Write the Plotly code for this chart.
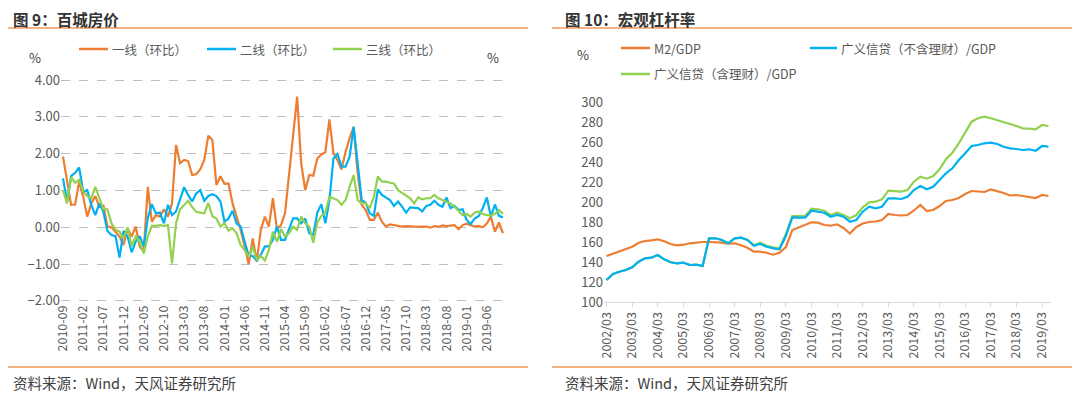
import pandas as pd
import plotly.graph_objects as go

# ---------------- Chart 9 data (monthly, %) ----------------
months = list(pd.period_range("2010-09", periods=110, freq="M").strftime("%Y-%m"))
tier1 = [1.92, 1.20, 0.61, 0.62, 1.24, 0.83, 0.29, 0.65, 0.85, 0.56,
         0.59, 0.02, 0.00, -0.12, -0.25, -0.48, -0.03, -0.25, 0.02, -0.52,
         -0.66, 1.10, 0.15, 0.33, 0.29, 0.49, 0.29, 0.65, 2.24, 1.74,
         1.83, 1.80, 1.42, 1.44, 1.57, 1.83, 2.49, 2.37, 1.15, 1.39,
         1.18, 1.19, 0.65, 0.29, -0.07, -0.52, -1.00, -0.30, -0.93, -0.07,
         0.29, 0.02, 0.79, -0.05, 0.06, 0.38, 1.47, 2.64, 3.55, 1.74,
         1.01, 1.42, 1.40, 1.87, 1.98, 2.04, 2.93, 2.01, 1.83, 1.57,
         2.05, 2.42, 2.73, 1.47, 0.61, 0.47, 0.20, 0.20, 0.40, 0.15,
         0.02, 0.08, 0.06, 0.04, 0.02, 0.03, 0.02, 0.02, 0.01, 0.02,
         0.02, -0.01, 0.03, 0.01, 0.05, 0.03, 0.05, 0.06, -0.05, 0.06,
         0.10, 0.06, 0.02, 0.04, 0.00, 0.10, 0.29, -0.12, 0.13, -0.16]
tier2 = [1.33, 0.70, 1.39, 1.48, 1.63, 0.97, 1.01, 0.61, 0.33, 0.65,
         0.42, -0.10, -0.21, -0.24, -0.82, -0.10, -0.25, -0.68, -0.39, -0.24,
         -0.52, 0.25, 0.63, 0.38, 0.40, 0.11, 0.61, 0.33, 0.43, 0.74,
         1.09, 0.88, 0.70, 0.92, 1.01, 0.72, 0.85, 0.90, 0.85, 0.70,
         0.15, 0.24, 0.45, 0.11, 0.02, -0.39, -0.77, -0.78, -0.90, -0.75,
         -0.52, -0.52, -0.34, 0.02, -0.34, -0.34, -0.07, 0.24, 0.24, 0.11,
         0.24, -0.16, -0.21, 0.40, 0.63, 0.11, 0.74, 1.87, 1.99, 1.65,
         1.65, 1.92, 2.73, 1.65, 0.74, 0.67, 0.38, 0.31, 1.03, 0.88,
         0.81, 0.74, 0.58, 0.70, 0.56, 0.40, 0.54, 0.54, 0.52, 0.43,
         0.58, 0.61, 0.72, 0.61, 0.56, 0.81, 0.52, 0.58, 0.47, 0.49,
         0.20, 0.09, 0.24, 0.31, 0.52, 0.81, 0.29, 0.62, 0.31, 0.27]
tier3 = [1.01, 0.65, 1.36, 1.21, 1.29, 0.97, 0.85, 0.79, 1.10, 0.79,
         0.49, 0.49, 0.11, -0.07, -0.12, -0.30, 0.00, -0.51, -0.25, -0.39,
         -0.71, -0.25, 0.04, 0.04, 0.06, 0.04, 0.06, -0.98, 0.11, 0.49,
         0.61, 0.72, 0.55, 0.42, 0.40, 0.38, 0.66, 0.30, 0.24, 0.02,
         0.11, -0.09, -0.03, -0.16, -0.48, -0.62, -0.80, -0.54, -0.87, -0.78,
         -0.90, -0.62, -0.12, -0.39, -0.05, -0.25, -0.16, 0.02, -0.07, 0.29,
         0.11, 0.02, -0.42, 0.13, 0.31, 0.40, 0.83, 0.79, 0.74, 0.61,
         0.74, 1.10, 1.42, 0.74, 0.65, 0.65, 0.52, 0.83, 1.38, 1.24,
         1.24, 1.21, 1.19, 1.01, 0.94, 0.88, 0.79, 0.65, 0.81, 0.76,
         0.79, 0.79, 0.88, 0.79, 0.74, 0.70, 0.65, 0.56, 0.45, 0.33,
         0.36, 0.29, 0.40, 0.43, 0.36, 0.33, 0.33, 0.36, 0.47, 0.36]
tick9 = ["2010-09", "2011-02", "2011-07", "2011-12", "2012-05", "2012-10", "2013-03",
         "2013-08", "2014-01", "2014-06", "2014-11", "2015-04", "2015-09", "2016-02",
         "2016-07", "2016-12", "2017-05", "2017-10", "2018-03", "2018-08", "2019-01",
         "2019-06"]

# ---------------- Chart 10 data (quarterly, %) ----------------
quarters = [f"{y}/{m:02d}" for y in range(2002, 2020) for m in (3, 6, 9, 12)][:70]
m2_gdp = [146, 148.3, 150.7, 153, 155.3, 159.3, 161, 161.7, 162.7, 160.7,
          158, 156.7, 157.3, 158.7, 159.7, 160, 160, 160, 159.3, 158.3,
          158.7, 156.7, 154.3, 150.3, 150.3, 149.3, 147.3, 149.3, 155, 172,
          174.7, 177, 179.7, 179.3, 177, 176.3, 177.7, 174, 168.5, 175,
          178.5, 180, 180.5, 182, 188, 187, 186.5, 187, 191.5, 197,
          191, 192, 196, 201, 202, 204, 208, 211, 210.5, 210,
          212.5, 211, 209, 206.5, 207, 206, 205, 204, 207, 206]
credit_ex = [122, 128, 130.3, 132, 134.7, 140.3, 143.7, 144.3, 147, 142.7,
             139.7, 138.7, 139.3, 137, 137.3, 136, 163.7, 163.7, 162, 158.7,
             163.7, 164.3, 162, 156.3, 158, 155.3, 153.7, 152.7, 166, 184.7,
             184.3, 184.3, 191.3, 190.3, 189.3, 185.3, 187, 185.3, 180.3, 182,
             190.3, 195.3, 193.7, 195.3, 203.7, 203.7, 203, 205.3, 212, 216,
             212.7, 215.3, 222, 228.7, 233.7, 242, 248.7, 256, 257, 258.7,
             259.3, 258, 255.3, 253.7, 253, 252, 252.7, 251.3, 256, 255.3]
credit_in = [122, 128, 130.3, 132, 134.7, 140.3, 143.7, 144.3, 147, 142.7,
             139.7, 138.7, 139.3, 137, 137.3, 136, 163.7, 163.7, 162, 158.7,
             163.7, 164.3, 162, 157, 159.3, 156.3, 154.7, 153.7, 168, 186,
             186, 186, 193.3, 192.7, 191.3, 187, 189.3, 187, 183.7, 187,
             194.7, 199.7, 200.3, 202.7, 211.3, 211, 210.3, 212, 220.3, 225.3,
             223.3, 226, 232.7, 242.7, 249.3, 258.7, 269.3, 280.3, 283.7, 285.3,
             283.7, 282, 280.3, 278, 276, 273.7, 273.3, 272.7, 277, 276]
tick10 = [f"{y}/03" for y in range(2002, 2020)]

ORANGE = "#ED7D31"
BLUE = "#00B0F0"
GREEN = "#92D050"
RULE = "#F4B183"
GRAY = "#595959"
FONT = "Noto Sans CJK SC"

# The page body has an 8px margin, so the figure is sized to fill the rest of
# the window and every screen position is shifted by that offset.
OFF = 8
W, H = 1080 - OFF, 394 - OFF


def px(x):
    return (x - OFF) / W


def py(y):
    return 1 - (y - OFF) / H


fig = go.Figure()
for name, vals, col in [("一线（环比）", tier1, ORANGE), ("二线（环比）", tier2, BLUE),
                        ("三线（环比）", tier3, GREEN)]:
    fig.add_trace(go.Scatter(x=months, y=vals, name=name, mode="lines",
                             line=dict(color=col, width=2.2), xaxis="x", yaxis="y",
                             showlegend=False))
for name, vals, col in [("M2/GDP", m2_gdp, ORANGE), ("广义信贷（含理财）/GDP", credit_in, GREEN),
                        ("广义信贷（不含理财）/GDP", credit_ex, BLUE)]:
    fig.add_trace(go.Scatter(x=quarters, y=vals, name=name, mode="lines",
                             line=dict(color=col, width=2.2), xaxis="x2", yaxis="y2",
                             showlegend=False))

fig.update_layout(
    width=W, height=H, margin=dict(l=0, r=0, t=0, b=0, autoexpand=False),
    paper_bgcolor="white", plot_bgcolor="white", showlegend=False,
    font=dict(family=FONT, color=GRAY, size=12),
    xaxis=dict(domain=[px(61), px(505)], type="category", range=[-0.5, 109.5],
               tickmode="array", tickvals=tick9, ticktext=tick9, tickangle=-90,
               showgrid=False, showline=False, ticks="", zeroline=False, automargin=False,
               tickfont=dict(size=12.5, color=GRAY)),
    yaxis=dict(domain=[py(302), py(79)], range=[-2.03, 4.03], anchor="x",
               tickvals=[-2, -1, 0, 1, 2, 3, 4], tickformat=".2f", automargin=False,
               showgrid=True, gridcolor="#BFBFBF", griddash="dash", gridwidth=1,
               zeroline=False, showline=False, ticks="",
               tickfont=dict(size=13, color=GRAY)),
    xaxis2=dict(domain=[px(604), px(1051)], type="category", range=[-0.4, 69.4],
                anchor="y2", tickmode="array", tickvals=tick10, ticktext=tick10,
                tickangle=-90, showgrid=False, showline=True, linecolor="#D9D9D9",
                linewidth=1, ticks="outside", ticklen=4, tickcolor="#D9D9D9",
                zeroline=False, automargin=False, tickfont=dict(size=12.5, color=GRAY)),
    yaxis2=dict(domain=[py(302), py(102)], range=[100, 300], anchor="x2",
                dtick=20, showgrid=False, zeroline=False, showline=False, ticks="",
                automargin=False, tickfont=dict(size=13, color=GRAY)),
)

shapes = []
annotations = []
# title rules and bottom rules
for x0, x1 in [(0, 528), (552, 1080)]:
    shapes.append(dict(type="line", xref="paper", yref="paper", x0=px(x0), x1=px(x1),
                       y0=py(28), y1=py(28), line=dict(color=RULE, width=2)))
    shapes.append(dict(type="line", xref="paper", yref="paper", x0=px(x0), x1=px(x1),
                       y0=py(367), y1=py(367), line=dict(color=RULE, width=2)))

annotations.append(dict(text="<b>图 9：百城房价</b>", x=px(11), y=py(19), xref="paper", yref="paper",
                        xanchor="left", yanchor="middle", showarrow=False,
                        font=dict(size=15.5, color="#333333")))
annotations.append(dict(text="<b>图 10：宏观杠杆率</b>", x=px(563), y=py(19), xref="paper", yref="paper",
                        xanchor="left", yanchor="middle", showarrow=False,
                        font=dict(size=15.5, color="#333333")))
for x in (11, 563):
    annotations.append(dict(text="资料来源：Wind，天风证券研究所", x=px(x), y=py(382), xref="paper",
                            yref="paper", xanchor="left", yanchor="middle", showarrow=False,
                            font=dict(size=14.5, color="#404040")))
for x, y in [(35, 57), (493, 57), (583, 55)]:
    annotations.append(dict(text="%", x=px(x), y=py(y), xref="paper", yref="paper",
                            xanchor="center", yanchor="middle", showarrow=False,
                            font=dict(size=13, color="#404040")))

legend_items = [
    (79, 108, 49, "一线（环比）", ORANGE),
    (207, 236, 49, "二线（环比）", BLUE),
    (333, 362, 49, "三线（环比）", GREEN),
    (621, 650, 48, "M2/GDP", ORANGE),
    (810, 837, 48, "广义信贷（不含理财）/GDP", BLUE),
    (621, 650, 74, "广义信贷（含理财）/GDP", GREEN),
]
for x0, x1, y, text, col in legend_items:
    shapes.append(dict(type="line", xref="paper", yref="paper", x0=px(x0), x1=px(x1),
                       y0=py(y), y1=py(y), line=dict(color=col, width=2.5)))
    annotations.append(dict(text=text, x=px(x1 + 2), y=py(y), xref="paper", yref="paper",
                            xanchor="left", yanchor="middle", showarrow=False,
                            font=dict(size=12.5, color=GRAY)))

fig.update_layout(shapes=shapes, annotations=annotations)
fig.write_html("out.html")
